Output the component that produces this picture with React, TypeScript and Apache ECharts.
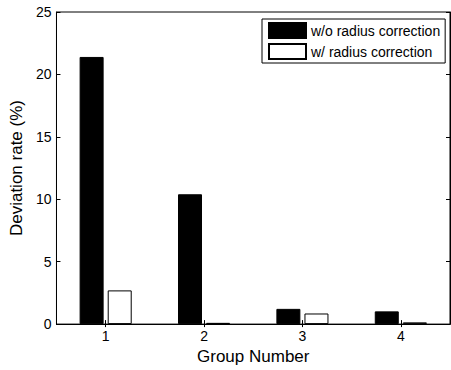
import React, { useEffect, useRef } from "react";
import * as echarts from "echarts";

const categories = ["1", "2", "3", "4"];
const withoutCorrection = [21.4, 10.4, 1.22, 1.02];
const withCorrection = [2.7, 0.1, 0.85, 0.14];
const yTicks = { min: 0, max: 25, interval: 5 };
const seriesNames = ["w/o radius correction", "w/ radius correction"];

const FONT = "Liberation Sans, Arial, sans-serif";

export default function App() {
  const ref = useRef<HTMLDivElement>(null);
  useEffect(() => {
    if (!ref.current) return;
    const chart = echarts.init(ref.current, null, { renderer: "svg" });
    chart.setOption({
      animation: false,
      backgroundColor: "#fff",
      textStyle: { fontFamily: FONT },
      grid: {
        left: 53,
        right: 1,
        top: 12,
        bottom: 44,
        show: true,
        borderColor: "#000",
        borderWidth: 1,
        backgroundColor: "transparent",
      },
      legend: {
        orient: "vertical",
        left: 262,
        top: 19,
        icon: "rect",
        itemWidth: 37,
        itemHeight: 15,
        itemGap: 4,
        padding: [3, 5, 3, 6],
        borderColor: "#000",
        borderWidth: 1,
        backgroundColor: "#fff",
        textStyle: { fontFamily: FONT, fontSize: 14, color: "#000" },
        data: seriesNames,
      },
      xAxis: [
        {
          type: "category",
          data: categories,
          position: "bottom",
          name: "Group Number",
          nameLocation: "middle",
          nameGap: 22,
          nameTextStyle: { fontFamily: FONT, fontSize: 17, color: "#000" },
          axisLine: { lineStyle: { color: "#000" } },
          axisTick: { show: true, inside: true, alignWithLabel: true, length: 4, lineStyle: { color: "#000" } },
          axisLabel: { fontFamily: FONT, fontSize: 14, color: "#000", margin: 5 },
          splitLine: { show: false },
        },
        {
          type: "category",
          data: categories,
          position: "top",
          axisLine: { lineStyle: { color: "#000" } },
          axisTick: { show: true, inside: true, alignWithLabel: true, length: 3, lineStyle: { color: "#000" } },
          axisLabel: { show: false },
          splitLine: { show: false },
        },
      ],
      yAxis: [
        {
          type: "value",
          min: yTicks.min,
          max: yTicks.max,
          interval: yTicks.interval,
          position: "left",
          name: "Deviation rate (%)",
          nameLocation: "middle",
          nameGap: 27,
          nameRotate: 90,
          nameTextStyle: { fontFamily: FONT, fontSize: 17, color: "#000" },
          axisLine: { show: true, lineStyle: { color: "#000" } },
          axisTick: { show: true, inside: true, length: 4, lineStyle: { color: "#000" } },
          axisLabel: { fontFamily: FONT, fontSize: 14, color: "#000", margin: 5 },
          splitLine: { show: false },
        },
        {
          type: "value",
          min: yTicks.min,
          max: yTicks.max,
          interval: yTicks.interval,
          position: "right",
          axisLine: { show: true, lineStyle: { color: "#000" } },
          axisTick: { show: true, inside: true, length: 4, lineStyle: { color: "#000" } },
          axisLabel: { show: false },
          splitLine: { show: false },
        },
      ],
      series: [
        {
          name: seriesNames[0],
          type: "bar",
          data: withoutCorrection,
          barWidth: 24,
          barGap: "17%",
          itemStyle: { color: "#000", borderColor: "#000", borderWidth: 1 },
        },
        {
          name: seriesNames[1],
          type: "bar",
          data: withCorrection,
          barWidth: 24,
          barGap: "17%",
          itemStyle: { color: "#fff", borderColor: "#000", borderWidth: 1 },
        },
      ],
    });
    return () => chart.dispose();
  }, []);
  return <div ref={ref} style={{ width: 451, height: 370, position: "absolute", left: 0, top: 0 }} />;
}
